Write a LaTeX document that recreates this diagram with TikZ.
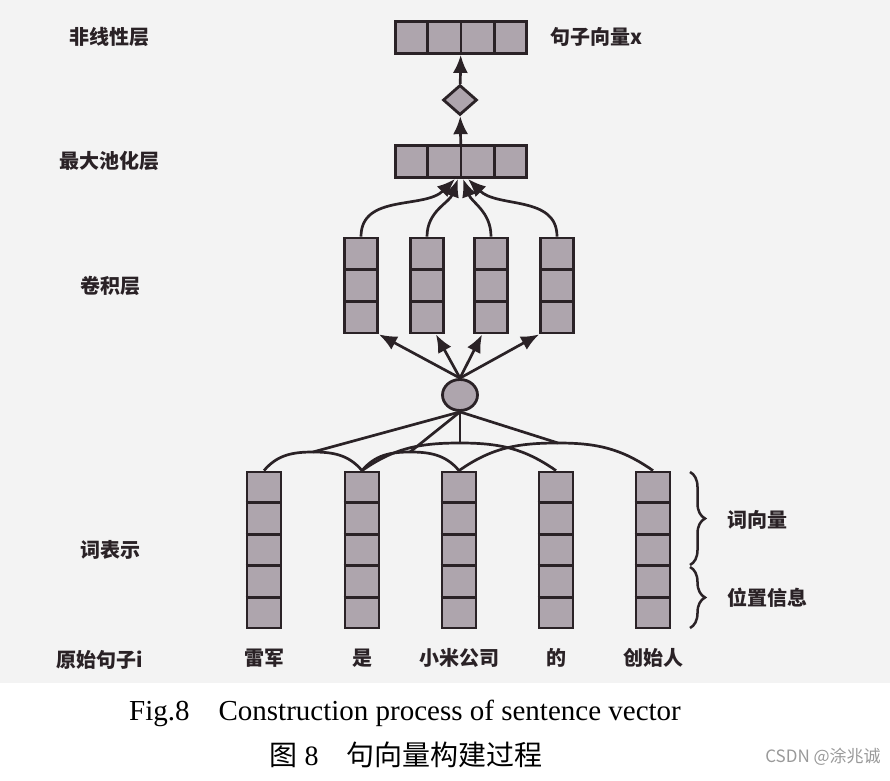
\documentclass[tikz,border=0pt]{standalone}
\usepackage{fontspec}
\setmainfont{Liberation Serif}
\newfontfamily\cjk{Noto Sans CJK SC}
\usepackage{xcolor}
\usetikzlibrary{shapes,arrows.meta,positioning,calc,decorations.pathreplacing}
\definecolor{cellfill}{RGB}{174,165,173}
\definecolor{edgecol}{RGB}{42,34,38}
\definecolor{paper}{RGB}{243,243,243}

\begin{document}
\begin{tikzpicture}[x=1pt,y=1pt,>={Latex[length=18pt,width=15pt]},
    col/.style={draw=edgecol,fill=cellfill,line width=2.8pt,inner sep=0pt},
    wordcol/.style={col,rectangle,minimum width=34pt,minimum height=156pt},
    convcol/.style={col,rectangle,minimum width=33pt,minimum height=95pt},
    bar/.style={col,rectangle,minimum width=131pt,minimum height=32pt},
    layer/.style={font=\cjk\bfseries\fontsize{20}{20}\selectfont,text=edgecol,inner sep=0pt},
    link/.style={draw=edgecol,line width=2.7pt},
    arrow/.style={link,->},
    curly/.style={draw=edgecol,line width=2.5pt,decorate,decoration={brace,amplitude=15pt}}]
\useasboundingbox (0,0) rectangle (890,780);
\fill[paper] (0,97) rectangle (890,780);
\node[bar] (out) at (461,742.5) {};
\node[col,diamond,minimum width=34pt,minimum height=30pt] (nl) at (460,680) {};
\node[bar] (pool) at (461,618.5) {};
\foreach \x [count=\i] in {361,427,491,557}
  \node[convcol] (c\i) at (\x,494.5) {};
\node[col,ellipse,minimum width=35pt,minimum height=31pt] (conv) at (460,385) {};
\foreach \x [count=\i] in {264,362,459,556,653}
  \node[wordcol] (w\i) at (\x,230) {};
\foreach \b in {out,pool}
  \foreach \k in {1,2,3}
    \draw[edgecol,line width=2.8pt] ($(\b.north west)!\k/4!(\b.north east)$) -- ($(\b.south west)!\k/4!(\b.south east)$);
\foreach \i in {1,...,4}
  \foreach \k in {1,2}
    \draw[edgecol,line width=2.8pt] ($(c\i.north west)!\k/3!(c\i.south west)$) -- ($(c\i.north east)!\k/3!(c\i.south east)$);
\foreach \i in {1,...,5}
  \foreach \k in {1,...,4}
    \draw[edgecol,line width=2.8pt] ($(w\i.north west)!\k/5!(w\i.south west)$) -- ($(w\i.north east)!\k/5!(w\i.south east)$);

\node[layer] (lnl) at (109,743) {非线性层};
\node[layer] (lpool) at (109,619) {最大池化层};
\node[layer] (lconv) at (110,494) {卷积层};
\node[layer] (lword) at (110,230) {词表示};
\node[layer] (lsent) at (100,120) {原始句子i};
\node[layer,anchor=west] (lout) at (550,743) {句子向量x};
\foreach \t [count=\i] in {雷军,是,小米公司,的,创始人}
  \node[layer] (t\i) at (w\i |- 0,122) {\t};

\coordinate (a1) at (313,328);
\coordinate (a2) at (410,328);
\coordinate (a3) at (460,337);
\coordinate (a4) at (558,337);
\draw[link] (w1.north) to[out=50,in=180] (a1) to[out=0,in=130] (w2.north);
\draw[link] (w2.north) to[out=50,in=180] (a2) to[out=0,in=130] (w3.north);
\draw[link] (w2.north) to[out=35,in=180] (a3) to[out=0,in=145] (w4.north);
\draw[link] (w3.north) to[out=35,in=180] (a4) to[out=0,in=145] (w5.north);
\foreach \i in {1,...,4}
  \draw[link] (conv.south) -- (a\i);

\draw[arrow] (conv.north) -- (c1.south east);
\draw[arrow] (conv.north) -- ($(c2.south)!0.5!(c2.south east)$);
\draw[arrow] (conv.north) -- ($(c3.south)!0.5!(c3.south west)$);
\draw[arrow] (conv.north) -- (c4.south west);
\draw[arrow] (c1.north) to[out=90,in=-135] ($(pool.south)+(-6,0)$);
\draw[arrow] (c2.north) to[out=90,in=-110] ($(pool.south)+(-3,0)$);
\draw[arrow] (c3.north) to[out=90,in=-70] ($(pool.south)+(2,0)$);
\draw[arrow] (c4.north) to[out=90,in=-45] ($(pool.south)+(7,0)$);
\draw[arrow] (pool) -- (nl);
\draw[arrow] (nl) -- (out);

\draw[curly] (690,308) -- (690,215);
\draw[curly] (690,213) -- (690,152);
\node[layer,anchor=west] (lvec) at (727,260) {词向量};
\node[layer,anchor=west] (lpos) at (727,182) {位置信息};

\node[font=\fontsize{29}{29}\selectfont] (capen) at (405,67) {Fig.8\hspace{1em}Construction process of sentence vector};
\node[font=\fontsize{28}{28}\selectfont] (capzh) at (406,25) {{\cjk 图} 8\hspace{1em}{\cjk 句向量构建过程}};
\node[font=\cjk\fontsize{17}{17}\selectfont,text=gray!80] (wm) at (823,23) {CSDN @涂兆诚};
\end{tikzpicture}
\end{document}
